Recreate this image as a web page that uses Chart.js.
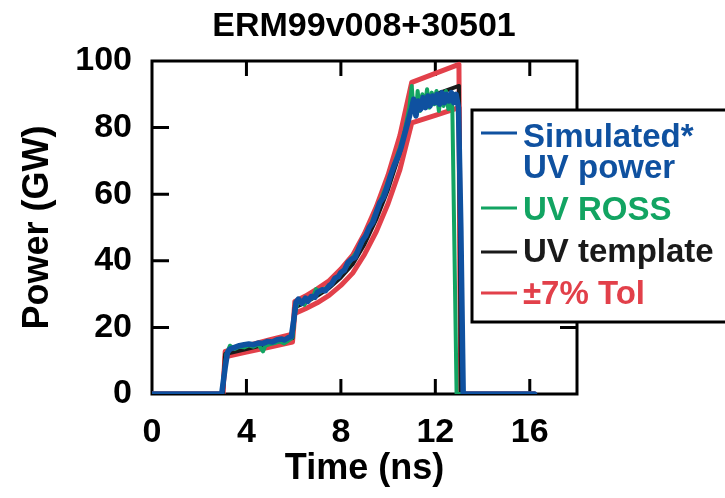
<!DOCTYPE html>
<html>
<head>
<meta charset="utf-8">
<script src="https://cdn.jsdelivr.net/npm/chart.js@4.4.1/dist/chart.umd.min.js"></script>
<style>
  html, body { margin: 0; padding: 0; background: #fff; }
  #wrap { width: 725px; height: 498px; position: relative; }
</style>
</head>
<body>
<div id="wrap"><canvas id="c" width="725" height="498"></canvas></div>
<script>
// ---- data ----
const chartTitle = "ERM99v008+30501";
const xTitle = "Time (ns)";
const yTitle = "Power (GW)";
const legendLabels = [["Simulated*", "UV power"], ["UV ROSS"], ["UV template"], ["\u00b17% Tol"]];

const timeTemplate  = [0, 3.0, 3.1, 4, 5, 5.95, 6.05, 6.5, 7, 7.5, 8, 8.5, 9, 9.5, 10, 10.5, 11, 12, 13, 13.08, 16.2];
const powerTemplate = [0, 0, 12, 13.5, 15.2, 16.8, 26, 27.5, 29.5, 31.8, 35, 39, 45, 52.5, 61.5, 72.5, 87.5, 90, 92.5, 0, 0];
const tolUpper      = [0, 0, 12.8, 14.4, 16.3, 18.0, 27.8, 29.4, 31.6, 34.0, 37.5, 41.7, 48.2, 56.2, 65.8, 77.6, 93.6, 96.3, 99.0, 0, 0];
const tolLower      = [0, 0, 11.2, 12.6, 14.1, 15.6, 24.2, 25.6, 27.4, 29.6, 32.6, 36.3, 41.9, 48.8, 57.2, 67.4, 81.4, 83.7, 86.0, 0, 0];

const timeSim  = [0, 2.95, 3.1, 3.2, 3.3, 3.5, 3.7, 3.9, 4.1, 4.3, 4.5, 4.7, 4.9, 5.1, 5.3, 5.5, 5.6, 5.8, 5.9, 6.0, 6.1, 6.2, 6.35, 6.5, 6.6, 6.75, 6.9, 7.0, 7.2, 7.35, 7.5, 7.6, 7.75, 7.9, 8.0, 8.15, 8.3, 8.45, 8.6, 8.75, 8.9, 9.05, 9.2, 9.35, 9.5, 9.65, 9.8, 9.95, 10.1, 10.25, 10.4, 10.55, 10.7, 10.85, 11.0, 11.08, 11.18, 11.28, 11.38, 11.48, 11.58, 11.68, 11.78, 11.88, 11.98, 12.08, 12.18, 12.28, 12.38, 12.48, 12.58, 12.68, 12.78, 12.88, 12.98, 13.08, 13.18, 16.2];
const powerSim = [0, 0, 8, 12.5, 13.5, 14, 14.5, 14.8, 15, 14.8, 15.3, 15.2, 15.8, 15.6, 16.3, 16.5, 16.2, 17, 17.2, 22, 27.5, 28.5, 27.2, 28.8, 27.8, 29.3, 29, 30.5, 31.3, 31, 32.5, 33, 34.8, 35.3, 36.5, 37.2, 39.5, 40.5, 41, 43.5, 46, 47.5, 50, 51.5, 54.5, 57.5, 59, 62, 65.5, 68.5, 71, 74, 78, 82, 86, 88.5, 83.5, 88, 85.5, 89, 86, 89.5, 86.5, 89.5, 87.5, 90, 87, 90.5, 87.5, 90, 88, 90.5, 87.5, 90, 86, 50, 0, 0];

const timeRoss  = [0, 2.95, 3.05, 3.15, 3.3, 3.5, 3.7, 3.9, 4.1, 4.3, 4.5, 4.7, 4.8, 5.0, 5.2, 5.4, 5.6, 5.8, 5.95, 6.05, 6.15, 6.3, 6.45, 6.6, 6.8, 6.95, 7.1, 7.3, 7.5, 7.7, 7.9, 8.1, 8.3, 8.5, 8.7, 8.9, 9.1, 9.3, 9.5, 9.7, 9.9, 10.1, 10.3, 10.5, 10.7, 10.9, 11.0, 11.08, 11.17, 11.25, 11.35, 11.45, 11.55, 11.65, 11.75, 11.85, 11.95, 12.05, 12.15, 12.25, 12.35, 12.45, 12.55, 12.65, 12.72, 12.9, 16.2];
const powerRoss = [0, 0, 6, 12, 14.5, 13.5, 14.2, 14, 14.6, 14.2, 14.9, 12.8, 14.5, 15, 15.3, 15.8, 15.2, 16.2, 17, 24, 27, 27.8, 26.8, 28.3, 28.8, 31.5, 30.5, 31.5, 32.5, 34, 35.5, 37, 38.8, 41, 43, 45.5, 48.5, 51.5, 55, 58.5, 62, 66, 70, 74, 79, 86, 92.5, 85, 83.5, 91, 85, 90, 86.5, 91.5, 86, 90.5, 87, 91, 85, 90, 86.5, 91, 85.5, 89.5, 86, 0, 0];

const xTicks = [0, 4, 8, 12, 16];
const yTicks = [0, 20, 40, 60, 80, 100];

// ---- colours / styles ----
const BLUE = "#0f51a0", GREEN = "#12a462", BLACK = "#1a1a1a", RED = "#e2404a";
const FONT = "'Liberation Sans', Arial, Helvetica, sans-serif";

function pts(ts, vs) { return ts.map((t, i) => ({ x: t, y: vs[i] })); }

const frame = {
  id: "frame",
  beforeDatasetsDraw(chart) {
    const { ctx, chartArea: a, scales } = chart;
    ctx.save();
    ctx.strokeStyle = "#000";
    ctx.lineWidth = 3;
    ctx.lineCap = "butt";
    ctx.beginPath();
    xTicks.forEach(v => {
      if (v <= 0) return;
      const x = scales.x.getPixelForValue(v);
      ctx.moveTo(x, a.bottom); ctx.lineTo(x, a.bottom - 15);
      ctx.moveTo(x, a.top); ctx.lineTo(x, a.top + 15);
    });
    yTicks.forEach(v => {
      if (v <= 0 || v >= 100) return;
      const y = scales.y.getPixelForValue(v);
      ctx.moveTo(a.left, y); ctx.lineTo(a.left + 17, y);
      ctx.moveTo(a.right, y); ctx.lineTo(a.right - 17, y);
    });
    ctx.stroke();
    ctx.strokeRect(a.left, a.top, a.right - a.left, a.bottom - a.top);
    // title
    ctx.fillStyle = "#000";
    ctx.font = "bold 34px " + FONT;
    ctx.textAlign = "center";
    ctx.textBaseline = "alphabetic";
    ctx.fillText(chartTitle, 364, 36);
    ctx.restore();
  },
  afterDraw(chart) {
    const { ctx } = chart;
    ctx.save();
    // legend box
    ctx.fillStyle = "#fff";
    ctx.fillRect(472, 110, 300, 212);
    ctx.strokeStyle = "#000";
    ctx.lineWidth = 3;
    ctx.strokeRect(472, 110, 300, 212);
    const cols = [BLUE, GREEN, BLACK, RED];
    const lineY = [133, 208, 252, 293];
    const baseY = [[147, 178], [220], [262], [304]];
    ctx.font = "bold 33px " + FONT;
    ctx.textBaseline = "alphabetic";
    ctx.textAlign = "left";
    legendLabels.forEach((lbl, i) => {
      ctx.strokeStyle = cols[i];
      ctx.lineWidth = 3;
      ctx.beginPath();
      ctx.moveTo(481, lineY[i]); ctx.lineTo(517, lineY[i]);
      ctx.stroke();
      ctx.fillStyle = cols[i];
      lbl.forEach((s, j) => ctx.fillText(s, 523, baseY[i][j]));
    });
    ctx.restore();
  }
};

new Chart(document.getElementById("c"), {
  type: "line",
  data: {
    datasets: [
      { label: "Simulated* UV power", data: pts(timeSim, powerSim), borderColor: BLUE, borderWidth: 5.5 },
      { label: "UV ROSS", data: pts(timeRoss, powerRoss), borderColor: GREEN, borderWidth: 4 },
      { label: "UV template", data: pts(timeTemplate, powerTemplate), borderColor: BLACK, borderWidth: 4 },
      { label: "+7% Tol", data: pts(timeTemplate, tolUpper), borderColor: RED, borderWidth: 5 },
      { label: "-7% Tol", data: pts(timeTemplate, tolLower), borderColor: RED, borderWidth: 5 }
    ]
  },
  options: {
    responsive: false,
    animation: false,
    devicePixelRatio: 1,
    layout: { padding: { left: 0, right: 148, top: 61, bottom: 0 } },
    elements: { point: { radius: 0 }, line: { tension: 0, borderJoinStyle: "round", borderCapStyle: "round" } },
    plugins: {
      legend: { display: false },
      tooltip: { enabled: false },
      title: { display: false }
    },
    scales: {
      x: {
        type: "linear", min: 0, max: 18,
        afterFit(s) { s.height = 104; },
        grid: { display: false, drawTicks: false },
        border: { display: false },
        ticks: {
          stepSize: 4, includeBounds: false, padding: 18, color: "#000",
          font: { family: FONT, size: 34, weight: "bold" },
          maxRotation: 0, autoSkip: false
        },
        title: { display: true, text: xTitle, color: "#000", font: { family: FONT, size: 36, weight: "bold" }, padding: { top: 0, bottom: 7 } }
      },
      y: {
        type: "linear", min: 0, max: 100,
        afterFit(s) { s.width = 152; },
        grid: { display: false, drawTicks: false },
        border: { display: false },
        ticks: {
          stepSize: 20, padding: 20, color: "#000",
          font: { family: FONT, size: 34, weight: "bold" }
        },
        title: { display: true, text: yTitle, color: "#000", font: { family: FONT, size: 36, weight: "bold" }, padding: { top: 16, bottom: 0 } }
      }
    }
  },
  plugins: [frame]
});
</script>
</body>
</html>
